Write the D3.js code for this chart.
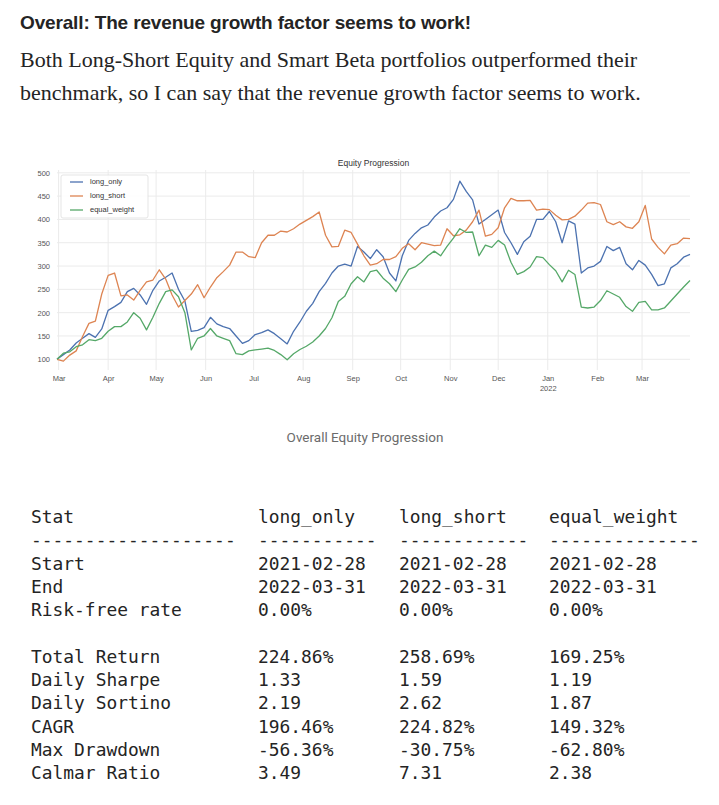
<!DOCTYPE html>
<html>
<head>
<meta charset="utf-8">
<script src="https://cdn.jsdelivr.net/npm/d3@7"></script>
<style>
  body { margin: 0; background: #fff; }
  svg { display: block; }
</style>
</head>
<body>
<div id="page"></div>
<script>
// 1: DATA
// one value every 4 calendar days, 2021-02-28 .. 2022-03-31
const startDate = "2021-02-28";
const stepDays = 4;

const longOnly = [
  100, 110, 120, 135, 145, 155, 147, 165, 205, 213,
  222, 245, 252, 238, 218, 248, 268, 276, 285, 250,
  225, 160, 162, 168, 190, 176, 170, 166, 150, 134,
  140, 153, 157, 163, 155, 144, 133, 160, 180, 203,
  220, 245, 263, 285, 300, 304, 300, 342, 330, 316,
  335, 320, 285, 268, 322, 355, 370, 382, 388, 405,
  418, 425, 443, 482, 460, 442, 390, 400, 410, 420,
  372, 350, 325, 352, 364, 400, 400, 417, 395, 350,
  397, 390, 285, 296, 300, 310, 342, 333, 340, 305,
  292, 312, 302, 282, 258, 262, 296, 305, 319, 325
];
const longShort = [
  100, 96, 109, 118, 149, 177, 182, 240, 280, 285,
  236, 238, 227, 248, 266, 270, 292, 272, 238, 212,
  226, 240, 260, 232, 255, 275, 288, 302, 330, 330,
  320, 318, 350, 366, 366, 375, 373, 380, 390, 398,
  406, 416, 366, 341, 342, 377, 372, 347, 322, 302,
  305, 314, 314, 320, 338, 348, 335, 350, 347, 344,
  345, 380, 365, 367, 377, 395, 420, 364, 368, 382,
  425, 445, 440, 440, 441, 420, 422, 421, 409, 399,
  400, 407, 420, 435, 436, 432, 395, 389, 395, 384,
  381, 395, 430, 358, 340, 326, 345, 348, 360, 359
];
const equalWeight = [
  100, 113, 116, 127, 131, 142, 140, 145, 160, 170,
  170, 180, 200, 188, 163, 190, 220, 245, 249, 234,
  200, 120, 145, 150, 166, 150, 145, 140, 112, 110,
  118, 120, 122, 124, 119, 110, 99, 112, 121, 128,
  137, 150, 166, 189, 224, 235, 262, 277, 266, 288,
  291, 274, 262, 245, 270, 293, 298, 308, 322, 332,
  322, 342, 360, 380, 372, 373, 322, 345, 340, 355,
  345, 308, 282, 288, 298, 320, 318, 303, 290, 266,
  291, 282, 212, 210, 212, 226, 247, 240, 233, 213,
  203, 222, 224, 206, 206, 210, 225, 240, 255, 269
];

const seriesNames = ["long_only", "long_short", "equal_weight"];
const seriesValues = [longOnly, longShort, equalWeight];
const seriesColors = ["#4C72B0", "#DD8452", "#55A868"];

const yTicks = [100, 150, 200, 250, 300, 350, 400, 450, 500];
const monthTicks = ["2021-03-01", "2021-04-01", "2021-05-01", "2021-06-01", "2021-07-01",
  "2021-08-01", "2021-09-01", "2021-10-01", "2021-11-01", "2021-12-01",
  "2022-01-01", "2022-02-01", "2022-03-01"];

// stats table
const statHeaders = ["Stat", "long_only", "long_short", "equal_weight"];
const statDashes = [19, 11, 12, 14];
const statNames = ["Start", "End", "Risk-free rate", "", "Total Return", "Daily Sharpe",
  "Daily Sortino", "CAGR", "Max Drawdown", "Calmar Ratio"];
const statLongOnly = ["2021-02-28", "2022-03-31", "0.00%", "", "224.86%", "1.33", "2.19",
  "196.46%", "-56.36%", "3.49"];
const statLongShort = ["2021-02-28", "2022-03-31", "0.00%", "", "258.69%", "1.59", "2.62",
  "224.82%", "-30.75%", "7.31"];
const statEqualWeight = ["2021-02-28", "2022-03-31", "0.00%", "", "169.25%", "1.19", "1.87",
  "149.32%", "-62.80%", "2.38"];

// 2: PAGE
const svg = d3.select("#page")
  .append("svg")
  .attr("width", 719)
  .attr("height", 805);

svg.append("text")
  .attr("x", 20)
  .attr("y", 29)
  .style("font-family", "'Liberation Sans', Arial, sans-serif")
  .style("font-weight", 700)
  .style("font-size", "19px")
  .style("letter-spacing", "-0.15px")
  .style("fill", "#242424")
  .text("Overall: The revenue growth factor seems to work!");

const paraLines = [
  "Both Long-Short Equity and Smart Beta portfolios outperformed their",
  "benchmark, so I can say that the revenue growth factor seems to work."
];
svg.selectAll(".para")
  .data(paraLines)
  .enter()
  .append("text")
  .attr("class", "para")
  .attr("x", 20)
  .attr("y", (d, i) => 67 + i * 33)
  .style("font-family", "'Liberation Serif', 'Times New Roman', serif")
  .style("font-size", "22px")
  .style("fill", "#242424")
  .text(d => d);

// 3: CHART
const plot = { left: 57, right: 690, top: 170, bottom: 370 };
const parse = d3.timeParse("%Y-%m-%d");
const t0 = parse(startDate);
const dates = longOnly.map((d, i) => d3.timeDay.offset(t0, i * stepDays));

const x = d3.scaleTime()
  .domain([t0, dates[dates.length - 1]])
  .range([plot.left, plot.right]);
const y = d3.scaleLinear()
  .domain([77, 506])
  .range([plot.bottom, plot.top]);

const chart = svg.append("g");

// grid
chart.append("g")
  .selectAll("line")
  .data(yTicks)
  .enter()
  .append("line")
  .attr("x1", plot.left)
  .attr("x2", plot.right)
  .attr("y1", d => y(d))
  .attr("y2", d => y(d))
  .style("stroke", "#ebebeb")
  .style("stroke-width", 1);

chart.append("g")
  .selectAll("line")
  .data(monthTicks)
  .enter()
  .append("line")
  .attr("x1", d => x(parse(d)))
  .attr("x2", d => x(parse(d)))
  .attr("y1", plot.top)
  .attr("y2", plot.bottom)
  .style("stroke", "#ebebeb")
  .style("stroke-width", 1);

// axes (labels only)
const tickFont = "'Liberation Sans', Arial, sans-serif";
const yAxis = chart.append("g")
  .attr("transform", `translate(${plot.left - 7},0)`)
  .call(d3.axisLeft(y).tickValues(yTicks).tickSize(0).tickPadding(0));
yAxis.select(".domain").remove();
yAxis.selectAll("text")
  .style("font-family", tickFont)
  .style("font-size", "7.5px")
  .style("fill", "#555");

const xAxis = chart.append("g")
  .attr("transform", `translate(0,${plot.bottom + 6})`)
  .call(d3.axisBottom(x)
    .tickValues(monthTicks.map(parse))
    .tickSize(0)
    .tickPadding(0)
    .tickFormat(d3.timeFormat("%b")));
xAxis.select(".domain").remove();
xAxis.selectAll("text")
  .style("font-family", tickFont)
  .style("font-size", "7.5px")
  .style("fill", "#555")
  .each(function(d) {
    if (d.getMonth() === 0) {
      d3.select(this).append("tspan")
        .attr("x", 0)
        .attr("dy", "1.25em")
        .text(d.getFullYear());
    }
  });

// lines
const line = d3.line()
  .x((d, i) => x(dates[i]))
  .y(d => y(d));

chart.selectAll(".series")
  .data(seriesValues)
  .enter()
  .append("path")
  .attr("class", "series")
  .attr("d", d => line(d))
  .style("fill", "none")
  .style("stroke", (d, i) => seriesColors[i])
  .style("stroke-width", 1.3)
  .style("stroke-linejoin", "round");

// title
chart.append("text")
  .attr("x", (plot.left + plot.right) / 2)
  .attr("y", 166)
  .attr("text-anchor", "middle")
  .style("font-family", tickFont)
  .style("font-size", "8.5px")
  .style("fill", "#333")
  .text("Equity Progression");

// legend
const legend = chart.append("g")
  .attr("transform", "translate(61,175)");
legend.append("rect")
  .attr("width", 87)
  .attr("height", 43)
  .attr("rx", 2)
  .style("fill", "#fff")
  .style("fill-opacity", 0.85)
  .style("stroke", "#dedede")
  .style("stroke-width", 0.8);
const legendItems = legend.selectAll(".item")
  .data(seriesNames)
  .enter()
  .append("g")
  .attr("class", "item")
  .attr("transform", (d, i) => `translate(0,${7 + i * 14})`);
legendItems.append("line")
  .attr("x1", 9)
  .attr("x2", 22)
  .style("stroke", (d, i) => seriesColors[i])
  .style("stroke-width", 1.3);
legendItems.append("text")
  .attr("x", 29)
  .attr("dy", "0.33em")
  .style("font-family", tickFont)
  .style("font-size", "7.5px")
  .style("fill", "#333")
  .text(d => d);

// caption
svg.append("text")
  .attr("x", 365)
  .attr("y", 442)
  .attr("text-anchor", "middle")
  .style("font-family", "Roboto, 'Liberation Sans', sans-serif")
  .style("font-size", "13.5px")
  .style("fill", "#6b6b6b")
  .text("Overall Equity Progression");

// 4: STATS TABLE
const colX = [31, 258, 399, 549];
const rowStep = 23.3;
const monoFont = "'DejaVu Sans Mono', 'Liberation Mono', monospace";
const table = svg.append("g")
  .style("font-family", monoFont)
  .style("font-size", "17.9px")
  .style("fill", "#242424");

table.selectAll(".head")
  .data(statHeaders)
  .enter()
  .append("text")
  .attr("class", "head")
  .attr("x", (d, i) => colX[i])
  .attr("y", 523)
  .text(d => d);

table.selectAll(".dash")
  .data(statDashes)
  .enter()
  .append("text")
  .attr("class", "dash")
  .attr("x", (d, i) => colX[i])
  .attr("y", 523 + rowStep)
  .text(d => "-".repeat(d));

const statCols = [statNames, statLongOnly, statLongShort, statEqualWeight];
statCols.forEach((col, c) => {
  table.selectAll(".c" + c)
    .data(col)
    .enter()
    .append("text")
    .attr("class", "c" + c)
    .attr("x", colX[c])
    .attr("y", (d, i) => 523 + rowStep * (i + 2))
    .text(d => d);
});
</script>
</body>
</html>
